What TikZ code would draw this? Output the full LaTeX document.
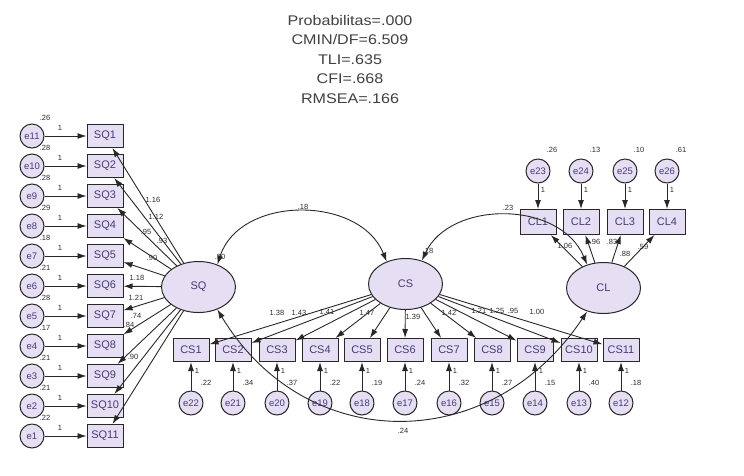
\documentclass[tikz,border=0pt]{standalone}
\usepackage{fontspec}
\setmainfont{Liberation Sans}
\newfontfamily\topfont[FakeStretch=1.15]{Liberation Sans}
\usetikzlibrary{arrows.meta,shapes.geometric}
\definecolor{boxfill}{RGB}{230,223,243}
\definecolor{txtc}{RGB}{72,58,118}
\definecolor{linec}{RGB}{40,40,40}
\definecolor{numc}{RGB}{45,45,45}
\begin{document}
\begin{tikzpicture}[x=1pt,y=-1pt,
  obs/.style={draw=linec, fill=boxfill, minimum width=36pt, minimum height=23pt, inner sep=0pt, line width=1pt, text=txtc, font=\fontsize{11}{11}\selectfont},
  err/.style={circle, draw=linec, fill=boxfill, minimum size=24pt, inner sep=0pt, line width=1pt, text=txtc, font=\fontsize{9.5}{9.5}\selectfont},
  lat/.style={ellipse, draw=linec, fill=boxfill, minimum width=74pt, minimum height=51pt, inner sep=0pt, line width=1pt, text=txtc, font=\fontsize{11}{11}\selectfont},
  lab/.style={inner sep=0pt, text=numc, font=\fontsize{7.5}{7.5}\selectfont},
  pth/.style={-{Latex[length=9pt,width=6pt]}, line width=0.9pt, draw=linec},
  cov/.style={{Latex[length=9pt,width=6pt]}-{Latex[length=9pt,width=6pt]}, line width=0.9pt, draw=linec}]
\useasboundingbox (0,0) rectangle (744,475);

% fit indices
\node[align=center, inner sep=0pt, text=black!75, font=\topfont\fontsize{14}{19.5}\selectfont] (fit) at (350,59)
  {Probabilitas=.000\\CMIN/DF=6.509\\TLI=.635\\CFI=.668\\RMSEA=.166};

% latent variables
\node[lat] (SQ) at (198.5,287) {SQ};
\node[lat] (CS) at (405.5,284) {CS};
\node[lat] (CL) at (603.5,288) {CL};

% SQ indicators
\foreach \i/\e/\y/\v in {1/11/136/.26, 2/10/166/.28, 3/9/196/.28, 4/8/226/.29, 5/7/256/.18, 6/6/286/.21, 7/5/316/.28, 8/4/346/.17, 9/3/376/.21, 10/2/406/.21, 11/1/436/.22} {
  \node[obs] (SQ\i) at (105,\y) {SQ\i};
  \node[err] (e\e) at (32,\y) {e\e};
  \draw[pth] (e\e) -- (SQ\i);
  \node[lab] (one\e) at (60,\y-8) {1};
  \node[lab] (ve\e) at (45,\y-18) {\v};
}
\foreach \i in {1,...,11} { \draw[pth] (SQ) -- (SQ\i); }
\foreach \t/\x/\y [count=\k] in {1.16/153/200, 1.12/156/217, .95/146/232, .93/162/241, .90/152/258, 1.18/137/278, 1.21/136/298, .74/136/316, .84/129/325, .90/133/357} {
  \node[lab] (lsq\k) at (\x,\y) {\t};
}

% CS indicators
\foreach \i/\e/\x/\v in {1/22/191/.22, 2/21/233/.34, 3/20/277/.37, 4/19/320/.22, 5/18/362/.19, 6/17/405/.24, 7/16/449/.32, 8/15/492/.27, 9/14/535/.15, 10/13/579/.40, 11/12/621/.18} {
  \node[obs] (CS\i) at (\x,350) {CS\i};
  \node[err] (e\e) at (\x,403) {e\e};
  \draw[pth] (e\e) -- (CS\i);
  \node[lab] (one\e) at (\x+6,371) {1};
  \node[lab] (ve\e) at (\x+15,383) {\v};
}
\foreach \i in {1,...,11} { \draw[pth] (CS) -- (CS\i); }
\foreach \t/\x/\y [count=\k] in {1.38/277/313, 1.43/299/313, 1.41/327/312, 1.47/367/313, 1.39/413/317, 1.42/449/313, 1.21/479/311, 1.25/497/311, .95/513/311, 1.00/537/312} {
  \node[lab] (lcs\k) at (\x,\y) {\t};
}

% CL indicators
\foreach \i/\e/\x/\v in {1/23/538/.26, 2/24/581/.13, 3/25/625/.10, 4/26/667/.61} {
  \node[obs, minimum height=25pt] (CL\i) at (\x,222) {CL\i};
  \node[err] (e\e) at (\x,171) {e\e};
  \draw[pth] (e\e) -- (CL\i);
  \node[lab] (one\e) at (\x+5,190) {1};
  \node[lab] (ve\e) at (\x+14,150) {\v};
}
\foreach \i in {1,...,4} { \draw[pth] (CL) -- (CL\i); }
\node[lab] (lcl1) at (565,246) {1.06};
\node[lab] (lcl2) at (595,242) {.96};
\node[lab] (lcl3) at (612,242) {.83};
\node[lab] (lcl4) at (643,247) {.59};

% latent variances
\node[lab] (vSQ) at (220,257) {.30};
\node[lab] (vCS) at (428,251) {.18};
\node[lab] (vCL) at (625,254) {.88};

% covariances
\draw[cov] (SQ.50) .. controls (240,195) and (360,195) .. (CS.130);
\draw[cov] (CS.55) .. controls (450,200) and (560,200) .. (CL.125);
\draw[cov] (SQ.-50) .. controls (306,456) and (491,456) .. (CL.-125);
\node[lab] (c1) at (303,207) {.18};
\node[lab] (c2) at (508,208) {.23};
\node[lab] (c3) at (403,431) {.24};
\end{tikzpicture}
\end{document}
